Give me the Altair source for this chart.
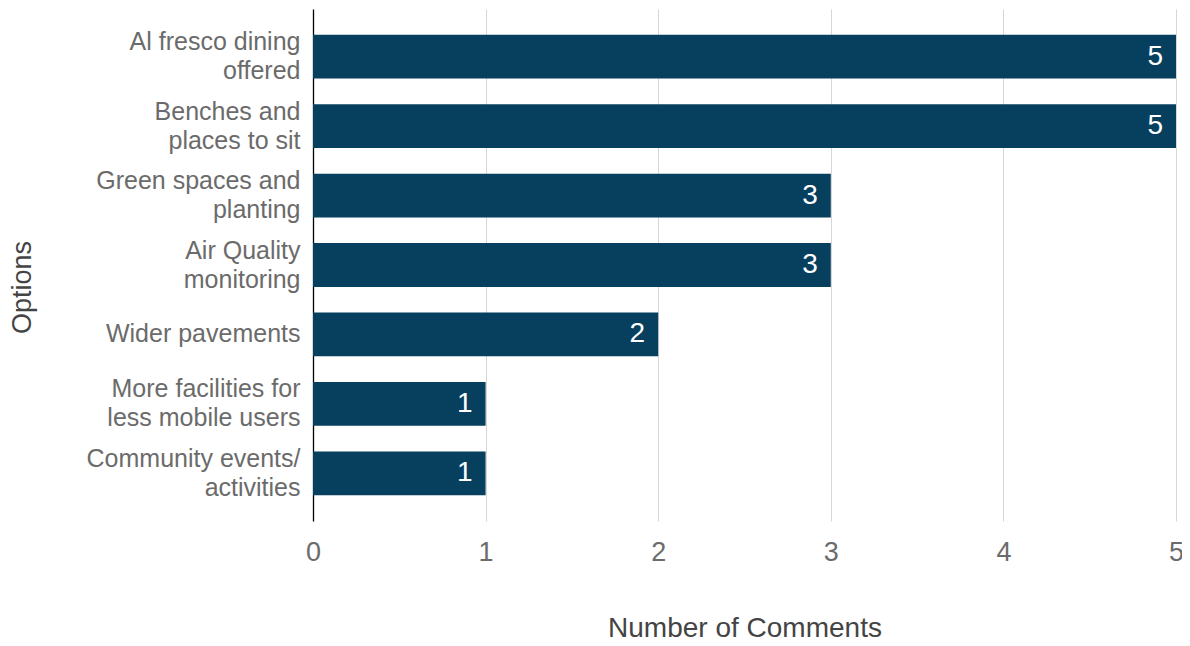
import altair as alt
import pandas as pd

options = [
    "Al fresco dining offered",
    "Benches and places to sit",
    "Green spaces and planting",
    "Air Quality monitoring",
    "Wider pavements",
    "More facilities for less mobile users",
    "Community events/ activities",
]
label_lines = [
    ["Al fresco dining", "offered"],
    ["Benches and", "places to sit"],
    ["Green spaces and", "planting"],
    ["Air Quality", "monitoring"],
    ["Wider pavements"],
    ["More facilities for", "less mobile users"],
    ["Community events/", "activities"],
]
comments = [5, 5, 3, 3, 2, 1, 1]
x_ticks = [0, 1, 2, 3, 4, 5]

df = pd.DataFrame({"Option": options, "Comments": comments})

label_expr = "{" + ",".join(
    '"%s": [%s]' % (o, ",".join('"%s"' % l for l in ls)) for o, ls in zip(options, label_lines)
) + "}[datum.value]"

single_line = [o for o, ls in zip(options, label_lines) if len(ls) == 1]
single_test = " || ".join("datum.value == '%s'" % o for o in single_line)

FONT = "Liberation Sans"

base = alt.Chart(df)

bars = base.mark_bar(color="#073f5f").encode(
    y=alt.Y(
        "Option:N",
        sort=options,
        scale=alt.Scale(paddingInner=0.37, paddingOuter=0.37),
        axis=alt.Axis(
            title="Options",
            titleFont=FONT,
            titleFontSize=27,
            titleFontWeight="normal",
            titleColor="#444444",
            titleAngle=-90,
            titleX=-291,
            titleY=278,
            titleAlign="center",
            titleBaseline="middle",
            labelExpr=label_expr,
            labelFont=FONT,
            labelFontSize=25,
            labelColor="#6b6b6b",
            labelLineHeight=29,
            labelLimit=400,
            labelPadding=13,
            labelOffset={"condition": {"test": single_test, "value": 0}, "value": -14.5},
            ticks=False,
            domainColor="#000000",
            domainWidth=1.3,
            grid=False,
        ),
    ),
    x=alt.X(
        "Comments:Q",
        scale=alt.Scale(domain=[0, 5], nice=False),
        axis=alt.Axis(
            title="Number of Comments",
            titleFont=FONT,
            titleFontSize=28,
            titleFontWeight="normal",
            titleColor="#444444",
            titlePadding=49,
            values=x_ticks,
            format="d",
            labelFont=FONT,
            labelFontSize=27,
            labelColor="#6b6b6b",
            labelPadding=18,
            labelFlush=False,
            ticks=False,
            domain=False,
            grid=True,
            gridColor="#d6d6d6",
            gridWidth=1,
        ),
    ),
)

text = base.mark_text(
    align="right", baseline="middle", dx=-13, color="white", font=FONT, fontSize=28
).encode(
    y=alt.Y("Option:N", sort=options),
    x=alt.X("Comments:Q"),
    text=alt.Text("Comments:Q"),
)

chart = (
    alt.layer(bars, text)
    .properties(
        width=863,
        height=512,
        background="white",
        autosize=alt.AutoSizeParams(type="none"),
        padding={"left": 305, "top": 1, "right": 6, "bottom": 125},
    )
    .configure_view(stroke="transparent", strokeWidth=0)
)

chart.save("out.html", embed_options={"renderer": "svg", "actions": False})
